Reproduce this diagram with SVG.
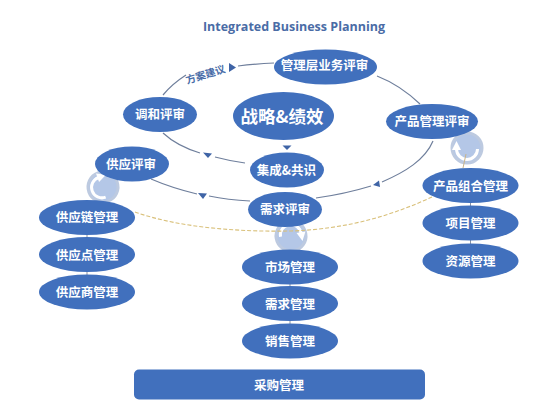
<svg xmlns="http://www.w3.org/2000/svg" width="550" height="413" viewBox="0 0 550 413">
<style>
.n{fill:#4170bd}
.t{font-family:"Noto Sans CJK SC","Noto Sans",sans-serif;font-weight:700;font-size:12.5px;fill:#fff;text-anchor:middle}
.big{font-size:17.5px}
.flow{fill:none;stroke:#6f7f9c;stroke-width:1.2}
.stem{fill:none;stroke:#8a93a3;stroke-width:1}
.dash{fill:none;stroke:#d9c07a;stroke-width:1.1;stroke-dasharray:4 2}
.tip{fill:#3f64a6}
.lab{font-family:"Noto Sans CJK SC","Noto Sans",sans-serif;font-weight:700;font-size:10.2px;fill:#4a6da8;text-anchor:middle}
.title{font-family:"Open Sans","Liberation Sans",sans-serif;font-weight:700;font-size:12.5px;fill:#4a6ca6;text-anchor:middle}
</style>
<defs>
<g id="cycle">
<circle r="15" fill="#b4c7e7" stroke="#bdcae0" stroke-width="3"/>
<path d="M10.5 1A10.5 10.5 0 0 1 -10.5 1" fill="none" stroke="#fff" stroke-width="3"/>
<path d="M-10.5 -7L-15 2L-6 2Z" fill="#fff"/>
</g>
</defs>
<rect width="550" height="413" fill="#fff"/>
<text class="title" x="294" y="30.500">Integrated Business Planning</text>
<g id="cycles">
<use href="#cycle" transform="translate(103 187) rotate(70)"/>
<use href="#cycle" transform="translate(467 148)"/>
<use href="#cycle" transform="translate(291 236) rotate(170)"/>
</g>
<g id="connectors">
<path class="flow" d="M274 63Q255 64 238 66"/>
<path class="flow" d="M186 75Q172 84 163 95"/>
<path class="flow" d="M377 76Q400 85 420 104"/>
<path class="flow" d="M433 141C425 160 405 172 382 182"/>
<path class="flow" d="M371 186Q345 194 316 198"/>
<path class="flow" d="M250 201Q228 200 209 196"/>
<path class="flow" d="M197 194Q172 188 151 179"/>
<path class="flow" d="M245 163Q230 161 215 157"/>
<path class="flow" d="M200 153Q177 146 163 133"/>
<path class="tip" d="M236 67.500L229 63L229 72Z"/>
<path class="tip" d="M287 150L282.500 145.500L291.500 145.500Z"/>
<path class="tip" d="M373 185L379 180.500L380 187Z"/>
<path class="tip" d="M203 199L198 193L207 193.500Z"/>
<path class="tip" d="M208 158L203 152.500L212 153.500Z"/>
<path class="dash" d="M135 212C180 228 240 232 291 231C350 229 395 214 432 197"/>
<path class="stem" d="M87 235V237M87 272V275M290 284V286M290 321V324M470.500 203V206M470.500 240V244"/>
<path class="stem" style="stroke:#c9b48a" d="M466 154L463 168"/>
<text class="lab" transform="translate(206.500 78) rotate(-17)">方案建议</text>
</g>
<g id="n1"><ellipse class="n" cx="325.500" cy="67" rx="51.500" ry="17.500"/><text class="t" x="324.500" y="69.500">管理层业务评审</text></g>
<g id="n2"><ellipse class="n" cx="160" cy="114.500" rx="37" ry="17.500"/><text class="t" x="160" y="119">调和评审</text></g>
<g id="n3"><ellipse class="n" cx="283.500" cy="116" rx="50.500" ry="24"/><text class="t big" x="282" y="122.500">战略&amp;绩效</text></g>
<g id="n4"><ellipse class="n" cx="287" cy="170" rx="37" ry="17.500"/><text class="t" x="286.500" y="175">集成&amp;共识</text></g>
<g id="n5"><ellipse class="n" cx="132" cy="164" rx="37" ry="17.500"/><text class="t" x="131" y="169">供应评审</text></g>
<g id="n6"><ellipse class="n" cx="432" cy="121.500" rx="46" ry="17.500"/><text class="t" x="432" y="126">产品管理评审</text></g>
<g id="n7"><ellipse class="n" cx="285" cy="209.500" rx="37" ry="17.500"/><text class="t" x="285" y="214">需求评审</text></g>
<g id="n8"><ellipse class="n" cx="87" cy="217.500" rx="48" ry="17.500"/><text class="t" x="87" y="222">供应链管理</text></g>
<g id="n9"><ellipse class="n" cx="87" cy="254.500" rx="48" ry="17.500"/><text class="t" x="87" y="259.500">供应点管理</text></g>
<g id="n10"><ellipse class="n" cx="87" cy="292" rx="48" ry="17.500"/><text class="t" x="87" y="297">供应商管理</text></g>
<g id="n11"><ellipse class="n" cx="290" cy="267" rx="48" ry="17.500"/><text class="t" x="290" y="272">市场管理</text></g>
<g id="n12"><ellipse class="n" cx="290" cy="303.500" rx="48" ry="17.500"/><text class="t" x="290" y="308.500">需求管理</text></g>
<g id="n13"><ellipse class="n" cx="290" cy="341" rx="48" ry="17.500"/><text class="t" x="290" y="346">销售管理</text></g>
<g id="n14"><ellipse class="n" cx="470.500" cy="185.500" rx="48" ry="17.500"/><text class="t" x="470.500" y="190.500">产品组合管理</text></g>
<g id="n15"><ellipse class="n" cx="470.500" cy="223" rx="48" ry="17.500"/><text class="t" x="470.500" y="228">项目管理</text></g>
<g id="n16"><ellipse class="n" cx="470.500" cy="261" rx="48" ry="17.500"/><text class="t" x="470.500" y="266">资源管理</text></g>
<g id="n17"><rect class="n" x="134" y="369.500" width="291" height="30" rx="5"/><text class="t" x="279" y="390">采购管理</text></g>
</svg>
